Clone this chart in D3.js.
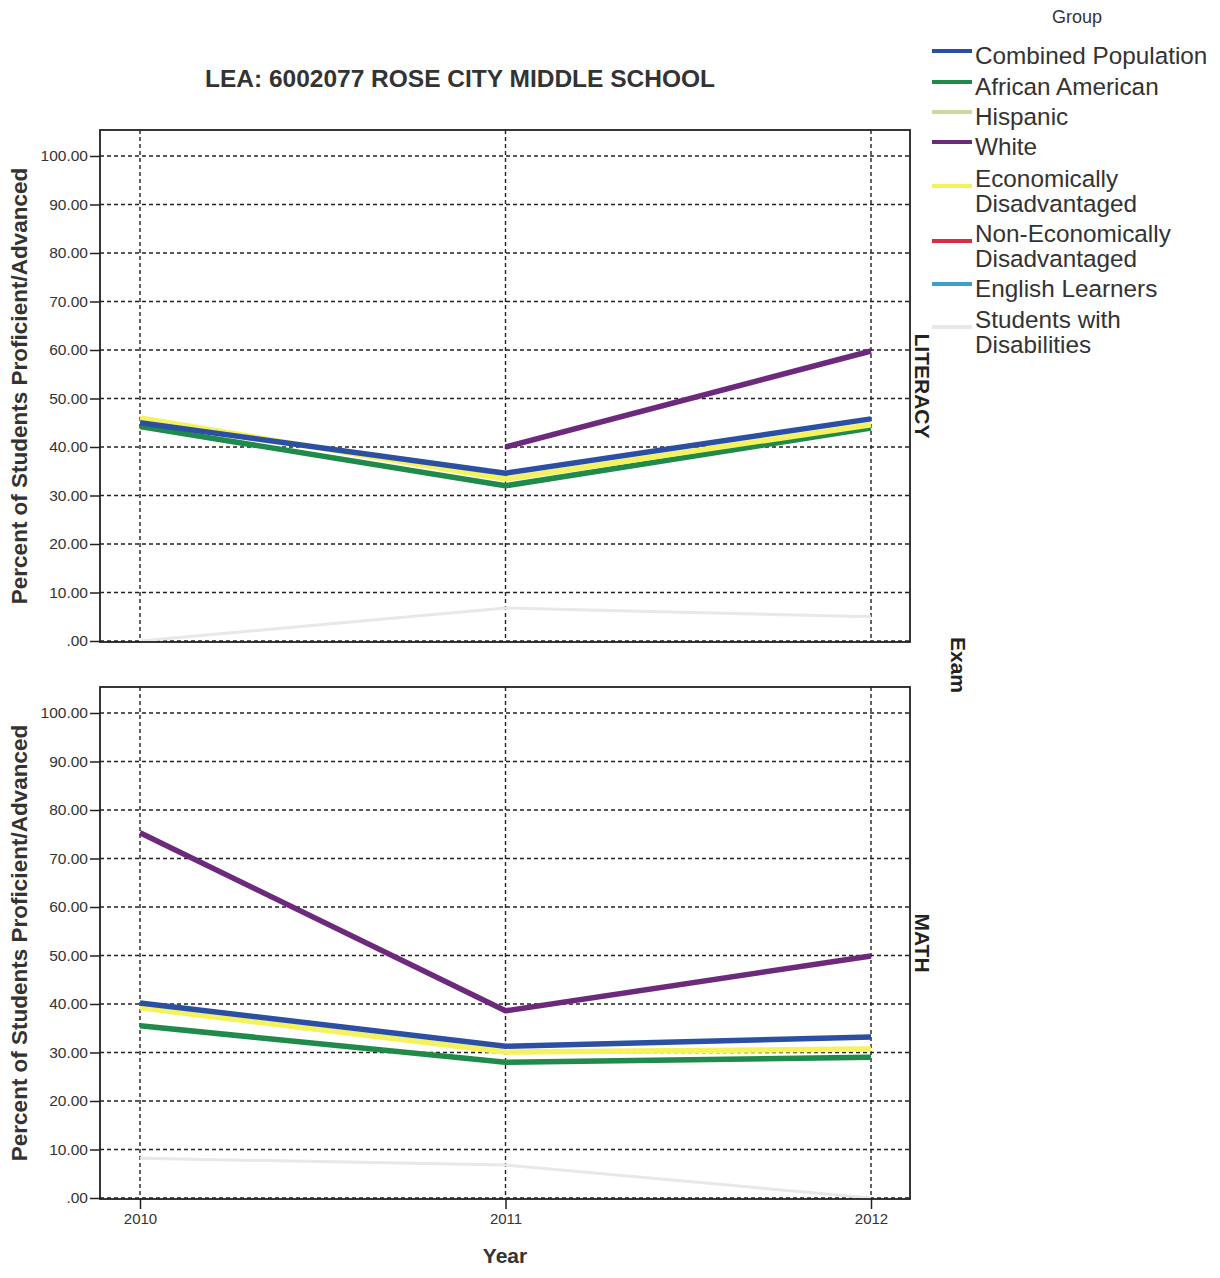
<!DOCTYPE html>
<html><head><meta charset="utf-8">
<script src="https://cdn.jsdelivr.net/npm/d3@7"></script>
<style>body{margin:0;background:#fff;}svg{display:block;font-family:"Liberation Sans",Arial,sans-serif;}</style>
</head><body>
<script>
const years = [2010, 2011, 2012];
const yTicks = [0, 10, 20, 30, 40, 50, 60, 70, 80, 90, 100];
const groups = ["Combined Population","African American","Hispanic","White","Economically Disadvantaged","Non-Economically Disadvantaged","English Learners","Students with Disabilities"];
const legendLines = [["Combined Population"],["African American"],["Hispanic"],["White"],["Economically","Disadvantaged"],["Non-Economically","Disadvantaged"],["English Learners"],["Students with","Disabilities"]];
const colors = ["#2b4fa3","#1f8a4a","#d3d6a3","#6d2a7c","#f4f25e","#d6303e","#3d9fca","#e8e8e8"];
const exams = ["LITERACY","MATH"];
// values per exam, per group (null = missing)
const literacySWD = [0, 6.8, 5.0];
const literacyCombined = [45.0, 34.6, 45.8];
const literacyAfrican = [44.2, 32.0, 43.9];
const literacyEcon = [46.0, 33.4, 44.6];
const literacyWhite = [null, 40.0, 59.8];
const mathSWD = [8.2, 6.8, 0];
const mathCombined = [40.2, 31.3, 33.2];
const mathAfrican = [35.5, 28.0, 29.0];
const mathEcon = [39.2, 30.1, 30.7];
const mathWhite = [75.3, 38.6, 49.9];

const panelSeries = [
  [{g:7,v:literacySWD,w:3},{g:1,v:literacyAfrican,w:5.5},{g:4,v:literacyEcon,w:5.5},{g:0,v:literacyCombined,w:5.5},{g:3,v:literacyWhite,w:5.5}],
  [{g:7,v:mathSWD,w:3},{g:1,v:mathAfrican,w:5.5},{g:4,v:mathEcon,w:5.5},{g:0,v:mathCombined,w:5.5},{g:3,v:mathWhite,w:5.5}]
];

const W=1220,H=1278;
const svg=d3.select("body").append("svg").attr("width",W).attr("height",H);
const left=100,right=910;
const panels=[{top:130,bottom:642},{top:687,bottom:1199}];
const x=d3.scalePoint().domain(years).range([140,871]);

svg.append("text").attr("x",460).attr("y",87).attr("text-anchor","middle")
  .attr("font-size",24.5).attr("font-weight","bold").attr("fill","#333").text("LEA: 6002077 ROSE CITY MIDDLE SCHOOL");

panels.forEach((p,i)=>{
  const y=d3.scaleLinear().domain([0,100]).range([p.bottom-1,p.top+26]);
  const g=svg.append("g");
  g.selectAll(".hg").data(yTicks).join("line").attr("x1",left).attr("x2",right)
    .attr("y1",d=>y(d)).attr("y2",d=>y(d)).attr("stroke","#222").attr("stroke-width",1.4).attr("stroke-dasharray","4,3");
  g.selectAll(".vg").data(years).join("line").attr("x1",d=>x(d)).attr("x2",d=>x(d))
    .attr("y1",p.top).attr("y2",p.bottom).attr("stroke","#222").attr("stroke-width",1.4).attr("stroke-dasharray","4,3");
  const ax=d3.axisLeft(y).tickValues(yTicks).tickSize(10).tickFormat(d=>d===0?".00":d3.format(".2f")(d));
  const ag=g.append("g").attr("transform",`translate(${left},0)`).call(ax);
  ag.select(".domain").remove();
  ag.selectAll(".tick line").attr("stroke","#222").attr("stroke-width",1.5);
  ag.selectAll(".tick text").attr("font-size",15.5).attr("fill","#333").attr("font-family","Liberation Sans, Arial, sans-serif").attr("x",-12);
  const line=d3.line().defined(d=>d.v!==null).x(d=>x(d.x)).y(d=>y(d.v));
  panelSeries[i].forEach(s=>{
    g.append("path").datum(years.map((yr,k)=>({x:yr,v:s.v[k]})))
      .attr("d",line).attr("fill","none").attr("stroke",colors[s.g]).attr("stroke-width",s.w).attr("stroke-linejoin","round");
  });
  g.append("rect").attr("x",left).attr("y",p.top).attr("width",right-left).attr("height",p.bottom-p.top)
    .attr("fill","none").attr("stroke","#222").attr("stroke-width",1.8);
  svg.append("text").attr("transform",`translate(27,${(p.top+p.bottom)/2}) rotate(-90)`).attr("text-anchor","middle")
    .attr("font-size",22.5).attr("font-weight","bold").attr("fill","#333").text("Percent of Students Proficient/Advanced");
  svg.append("text").attr("transform",`translate(915,${(p.top+p.bottom)/2}) rotate(90)`).attr("text-anchor","middle")
    .attr("font-size",21).attr("font-weight","bold").attr("fill","#222").text(exams[i]);
});

const xa=d3.axisBottom(x).tickSize(10).tickFormat(d3.format("d"));
const xg=svg.append("g").attr("transform",`translate(0,1199)`).call(xa);
xg.select(".domain").remove();
xg.selectAll(".tick line").attr("stroke","#222").attr("stroke-width",1.5);
xg.selectAll(".tick text").attr("font-size",15).attr("fill","#333").attr("font-family","Liberation Sans, Arial, sans-serif").attr("y",14);
svg.append("text").attr("x",505).attr("y",1263).attr("text-anchor","middle").attr("font-size",21).attr("font-weight","bold").attr("fill","#333").text("Year");
svg.append("text").attr("transform",`translate(951,665) rotate(90)`).attr("text-anchor","middle")
  .attr("font-size",21).attr("font-weight","bold").attr("fill","#222").text("Exam");

svg.append("text").attr("x",1077).attr("y",23).attr("text-anchor","middle").attr("font-size",18).attr("fill","#333").text("Group");
const legY=[56,87,117,147,179,234,289,320];
const lg=svg.append("g");
groups.forEach((gname,i)=>{
  const yy=legY[i];
  const ly=yy-5+(legendLines[i].length>1?12:0);
  lg.append("line").attr("x1",932).attr("x2",972).attr("y1",ly).attr("y2",ly)
    .attr("stroke",colors[i]).attr("stroke-width",4);
  legendLines[i].forEach((t,k)=>{
    lg.append("text").attr("x",975).attr("y",yy+8+k*25).attr("font-size",24.3).attr("fill","#333").text(t);
  });
});
</script>
</body></html>
